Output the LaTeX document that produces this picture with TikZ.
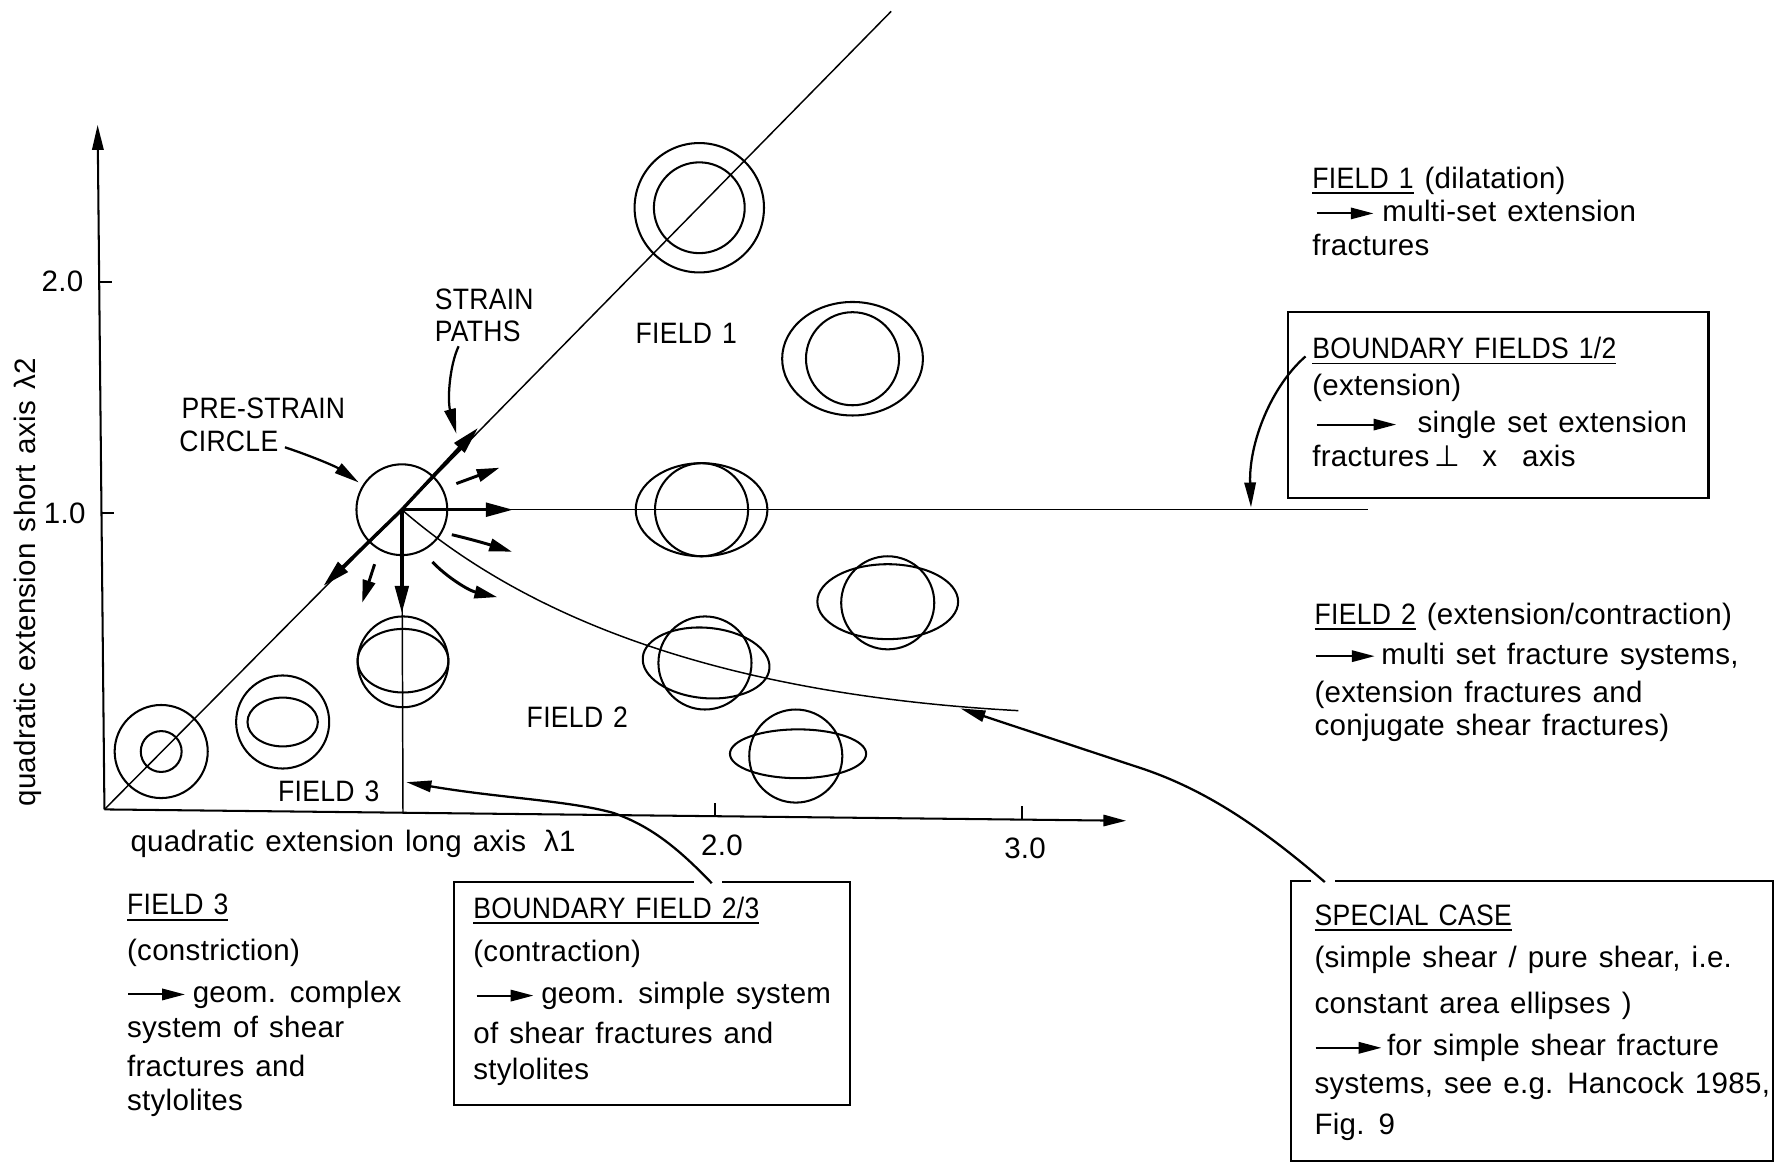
\documentclass[tikz,border=0pt]{standalone}
\usepackage{fontspec}
\setmainfont{Liberation Sans}[LetterSpace=1,WordSpace=1.3]
\newfontfamily\capsf{Liberation Sans}[FakeStretch=0.9,LetterSpace=1,WordSpace=1.3]
\newfontfamily\dejavu{DejaVu Sans}
\usetikzlibrary{arrows.meta}
\newsavebox\ulbox
\newcommand\ul[1]{\sbox\ulbox{#1}\rlap{\rule[-5pt]{\wd\ulbox}{1.6pt}}\usebox\ulbox}
\newcommand\tarr[1]{\tikz[baseline=-7pt]\draw[line width=1.8pt,-{Triangle[length=20pt,width=10pt]}] (0pt,0pt) -- (#1,0pt);}
\begin{document}
\begin{tikzpicture}[x=1pt,y=-1pt,
  thin/.style={line width=1.3pt},
  shp/.style={line width=1.8pt},
  axis/.style={line width=1.8pt},
  thk/.style={line width=3pt,-{Triangle[length=24pt,width=12pt]}},
  sml/.style={line width=2.6pt,-{Triangle[length=20pt,width=11pt]}},
  lbl/.style={line width=2pt,-{Triangle[length=22pt,width=10pt]}},
  boxl/.style={line width=1.8pt},
  txt/.style={inner sep=0pt,outer sep=0pt,anchor=base west,font=\fontsize{26}{31}\selectfont},
  lab/.style={inner sep=0pt,outer sep=0pt,font=\fontsize{26}{31}\selectfont}]
\useasboundingbox (0,0) rectangle (1568,1026);

% ---------- axes ----------
\coordinate (O) at (92,713);
\coordinate (Ytip) at (86,110);
\coordinate (Xtip) at (992,723);
\draw[axis,-{Triangle[length=22pt,width=10pt]}] (O) -- (Ytip);
\draw[axis,-{Triangle[length=20pt,width=10pt]}] (O) -- (Xtip);
\draw[axis] (88,248) -- (99,248);
\draw[axis] (90,452) -- (100,452);
\draw[axis] (630,719) -- (630,707);
\draw[axis] (900,722) -- (900,710);
\node[lab] (y2) at (55,248) {2.0};
\node[lab] (y1) at (57,452) {1.0};
\node[lab] (x2) at (636,745) {2.0};
\node[lab] (x3) at (903,747) {3.0};
\node[lab,anchor=base west] (xl) at (115,750) {quadratic extension long axis\hspace{6pt} λ1};
\node[lab,anchor=base,rotate=90] (yl) at (31,513) {quadratic extension short axis λ2};

% ---------- strain paths ----------
\coordinate (C) at (354,449);
\draw[thin] (O) -- (C) -- (785,10);
\draw[thin] (C) -- (1205,449);
\draw[thin] (C) -- (355,716);
\draw[thin] (C) .. controls (467,547) and (640,612) .. (897,626);

\draw[thk] (C) -- (421,377);
\draw[thk] (C) -- (285,516);
\draw[thk] (C) -- (452,449);
\draw[thk] (C) -- (354,540);
\draw[sml] (402,426) -- (440,412);
\draw[sml] (398,471) .. controls (415,475) and (432,480) .. (451,486);
\draw[sml] (381,495) .. controls (392,507) and (412,520) .. (438,526);
\draw[sml] (330,497) -- (319,531);

% ---------- circles and ellipses ----------
\draw[shp] (C) circle[radius=40pt];
\draw[shp] (616,183) circle[radius=57pt];
\draw[shp] (616,183) circle[radius=40pt];
\draw[shp] (751,316) ellipse[x radius=62pt,y radius=50pt];
\draw[shp] (751,316) circle[radius=41pt];
\draw[shp] (618,449) ellipse[x radius=58pt,y radius=41pt];
\draw[shp] (618,449) circle[radius=41pt];
\draw[shp] (782,530) ellipse[x radius=62pt,y radius=33pt];
\draw[shp] (782,531) circle[radius=41pt];
\draw[shp] (621,584) circle[radius=41pt];
\draw[shp,rotate around={-5:(622,584)}] (622,584) ellipse[x radius=56pt,y radius=31pt];
\draw[shp] (701,666) circle[radius=41pt];
\draw[shp] (703,664) ellipse[x radius=60pt,y radius=21.5pt];
\draw[shp] (355,583) circle[radius=40pt];
\draw[shp] (355,582) ellipse[x radius=40pt,y radius=28pt];
\draw[shp] (249,636) circle[radius=41pt];
\draw[shp] (249,636) ellipse[x radius=31pt,y radius=21.5pt];
\draw[shp] (142,662) circle[radius=41pt];
\draw[shp] (142,662) circle[radius=18pt];

% ---------- labels in the plot ----------
\node[txt] (pre1) at (160,369) {\capsf PRE-STRAIN};
\node[txt] (pre2) at (158,398) {\capsf CIRCLE};
\coordinate (preA) at (251,394);
\coordinate (preB) at (316,425);
\draw[lbl] (preA) .. controls (275,402) and (296,411) .. (preB);

\node[txt] (sp1) at (383,273) {\capsf STRAIN};
\node[txt] (sp2) at (383,301) {\capsf PATHS};
\coordinate (spA) at (404,305);
\coordinate (spB) at (402,382);
\draw[lbl] (spA) .. controls (396,322) and (394,352) .. (spB);

\node[txt] (f1l) at (560,303) {\capsf FIELD 1};
\node[txt] (f2l) at (464,641) {\capsf FIELD 2};
\node[txt] (f3l) at (245,706) {\capsf FIELD 3};

% ---------- FIELD 1 text ----------
\node[txt] (f1a) at (1156,166) {\ul{\capsf FIELD 1} (dilatation)};
\node[txt] (f1b) at (1159,195) {\tarr{50pt}\hspace{7pt}multi-set extension};
\node[txt] (f1c) at (1156,225) {fractures};

% ---------- BOUNDARY 1/2 ----------
\draw[boxl] (1135,275) rectangle (1505,439);
\node[txt] (b12a) at (1156,316) {\ul{\capsf BOUNDARY FIELDS 1/2}};
\node[txt] (b12b) at (1156,348) {(extension)};
\node[txt] (b12c) at (1159,381) {\tarr{70pt}\hspace{18pt}single set extension};
\node[txt] (b12d) at (1156,411) {fractures\hspace{4pt}{\dejavu ⊥}\hspace{20pt}x\hspace{22pt}axis};
\coordinate (b12s) at (1150,314);
\coordinate (b12t) at (1102,447);
\draw[lbl] (b12s) .. controls (1120,340) and (1100,390) .. (b12t);

% ---------- FIELD 2 text ----------
\node[txt] (f2a) at (1158,550) {\ul{\capsf FIELD 2} (extension/contraction)};
\node[txt] (f2b) at (1158,585) {\tarr{52pt}\hspace{5pt}multi set fracture systems,};
\node[txt] (f2c) at (1158,619) {(extension fractures and};
\node[txt] (f2d) at (1158,648) {conjugate shear fractures)};

% ---------- SPECIAL CASE ----------
\draw[boxl] (1155,776) -- (1137,776) -- (1137,1023) -- (1562,1023) -- (1562,776) -- (1176,776);
\node[txt] (sca) at (1158,815) {\ul{\capsf SPECIAL CASE}};
\node[txt] (scb) at (1158,852) {(simple shear / pure shear, i.e.};
\node[txt] (scc) at (1158,893) {constant area ellipses )};
\node[txt] (scd) at (1158,930) {\tarr{58pt}\hspace{4pt}for simple shear fracture};
\node[txt] (sce) at (1158,963) {systems, see e.g. Hancock 1985,};
\node[txt] (scf) at (1158,999) {Fig. 9};
\coordinate (scs) at (1167,777);
\coordinate (sct) at (846,624);
\draw[lbl] (scs) .. controls (1110,728) and (1060,694) .. (1000,675) -- (sct);

% ---------- FIELD 3 text ----------
\node[txt] (f3a) at (112,806) {\ul{\capsf FIELD 3}};
\node[txt] (f3b) at (112,846) {(constriction)};
\node[txt] (f3c) at (112,883) {\tarr{50pt}\hspace{6pt}geom. complex};
\node[txt] (f3d) at (112,914) {system of shear};
\node[txt] (f3e) at (112,948) {fractures and};
\node[txt] (f3f) at (112,978) {stylolites};

% ---------- BOUNDARY 2/3 ----------
\draw[boxl] (611,777) -- (400,777) -- (400,973) -- (749,973) -- (749,777) -- (636,777);
\node[txt] (b23a) at (417,809) {\ul{\capsf BOUNDARY FIELD 2/3}};
\node[txt] (b23b) at (417,847) {(contraction)};
\node[txt] (b23c) at (419,884) {\tarr{50pt}\hspace{6pt}geom. simple system};
\node[txt] (b23d) at (417,919) {of shear fractures and};
\node[txt] (b23e) at (417,951) {stylolites};
\coordinate (b23s) at (627,778);
\coordinate (b23t) at (358,689);
\draw[lbl] (b23s) .. controls (600,750) and (575,728) .. (540,716) .. controls (500,705) and (440,703) .. (b23t);
\end{tikzpicture}
\end{document}
